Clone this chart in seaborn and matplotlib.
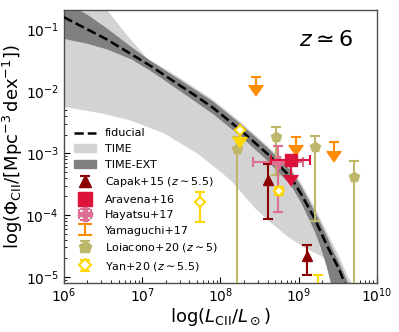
import numpy as np
import pandas as pd
import matplotlib
matplotlib.use("Agg")
import matplotlib.pyplot as plt
import matplotlib.lines as mlines
import seaborn as sns
from matplotlib.patches import Patch

# ---------------- data (log10 values) ----------------
fid_logL = [6.0, 6.55, 7.11, 7.49, 7.67, 7.91, 8.26, 8.6, 8.9, 9.03, 9.2, 9.37, 9.52, 9.6]
fid_logPhi = [-0.80, -1.16, -1.59, -1.91, -2.06, -2.27, -2.63, -3.01, -3.39, -3.66, -4.05, -4.52, -4.89, -5.15]

ext_up_logL = [6.0, 6.3, 6.55, 6.86, 7.11, 7.49, 7.91, 8.26, 8.6, 8.9, 9.03, 9.2, 9.37, 9.43, 9.52, 9.63, 9.68]
ext_up_logPhi = [-0.55, -0.76, -0.98, -1.28, -1.51, -1.82, -2.17, -2.53, -2.91, -3.28, -3.53, -3.93, -4.37, -4.55, -4.78, -5.1, -5.3]
ext_lo_logL = [6.0, 6.3, 6.55, 6.86, 7.11, 7.49, 7.91, 8.26, 8.6, 8.9, 9.03, 9.2, 9.28, 9.36, 9.41, 9.43]
ext_lo_logPhi = [-1.15, -1.23, -1.32, -1.48, -1.67, -2.00, -2.37, -2.73, -3.12, -3.52, -3.80, -4.25, -4.52, -4.85, -5.1, -5.3]

time_up_logL = [6.0, 6.3, 6.55, 6.8, 7.06, 7.49, 7.91, 8.26, 8.6, 8.9, 9.03, 9.2, 9.37, 9.52, 9.63, 9.7, 9.74]
time_up_logPhi = [0.25, -0.26, -0.68, -1.08, -1.46, -1.79, -2.14, -2.50, -2.88, -3.24, -3.48, -3.87, -4.30, -4.68, -5.0, -5.15, -5.3]
time_lo_logL = [6.0, 6.5, 6.85, 7.28, 7.7, 8.0, 8.14, 8.45, 8.64, 8.86, 9.06, 9.25, 9.41, 9.46, 9.48]
time_lo_logPhi = [-2.25, -2.36, -2.47, -2.68, -3.0, -3.3, -3.45, -3.9, -4.12, -4.35, -4.52, -4.64, -4.75, -4.95, -5.3]

# Capak+15
capak_logL = [8.61, 9.11]
capak_logPhi = [-3.43, -4.67]
capak_up = [-3.17, -4.49]
capak_lo = [-4.07, -4.97]

# Aravena+16 (upper limit)
aravena_logL = [8.90]
aravena_logPhi = [-3.11]
aravena_base = [-3.36]
aravena_xlo = [8.65]
aravena_xhi = [9.145]

# Hayatsu+17
hayatsu_logL = [8.735]
hayatsu_logPhi = [-3.14]
hayatsu_up = [-2.89]
hayatsu_lo = [-3.95]
hayatsu_xlo = [8.414]
hayatsu_xhi = [9.055]

# Yamaguchi+17 (upper limits)
yama_logL = [8.45, 8.96, 9.45]
yama_cap = [-1.76, -2.73, -2.82]
yama_base = [-1.90, -2.87, -2.97]

# Loiacono+20
loia_logL = [8.214, 8.705, 9.205, 9.71]
loia_logPhi = [-2.93, -2.73, -2.90, -3.39]
loia_up = [-2.73, -2.57, -2.72, -3.13]
loia_lo = [-8.0, -3.36, -4.09, -8.0]

# Yan+20
yan_logL = [7.744, 8.75, 9.24]
yan_logPhi = [-3.79, -3.61, -5.6]
yan_up = [-3.62, -3.55, -4.97]
yan_lo = [-4.11, -3.67, -8.0]
yan_lim_logL = [8.256]
yan_lim_logPhi = [-2.62]
yan_lim_base = [-2.73]

# ---------------- plotting ----------------
sns.set_style("ticks")
plt.rcParams['font.family'] = ['DejaVu Sans']
plt.rcParams['mathtext.fontset'] = 'dejavusans'
plt.rcParams['text.color'] = 'black'
plt.rcParams['axes.labelcolor'] = 'black'
plt.rcParams['xtick.color'] = 'black'
plt.rcParams['ytick.color'] = 'black'

fig = plt.figure(figsize=(3.99, 3.32), dpi=100)
ax = fig.add_axes([0.160, 0.148, 0.785, 0.823])
ax.set_xscale('log')
ax.set_yscale('log')

p = lambda a: 10.0 ** np.asarray(a, dtype=float)

C_TIME = '#d3d3d3'
C_EXT = '#808080'

ax.fill(np.concatenate([p(time_up_logL), p(time_lo_logL)[::-1]]),
        np.concatenate([p(time_up_logPhi), p(time_lo_logPhi)[::-1]]),
        color=C_TIME, lw=0, zorder=1)
ax.fill(np.concatenate([p(ext_up_logL), p(ext_lo_logL)[::-1]]),
        np.concatenate([p(ext_up_logPhi), p(ext_lo_logPhi)[::-1]]),
        color=C_EXT, lw=0, zorder=2)

fid = pd.DataFrame({'L': p(fid_logL), 'Phi': p(fid_logPhi)})
sns.lineplot(data=fid, x='L', y='Phi', ax=ax, color='black', lw=1.8,
             linestyle='--', zorder=3)

CARETS = (mlines.CARETDOWNBASE, mlines.CARETUPBASE,
          mlines.CARETLEFTBASE, mlines.CARETRIGHTBASE)

def big_carets(cont, size=9.5):
    for ln in cont.lines[1]:
        if ln.get_marker() in CARETS:
            ln.set_markersize(size)

def yerrs(val, lo, up):
    v = p(val)
    return v, np.vstack([v - p(lo), p(up) - v])

cs = 3.5
# Capak
v, e = yerrs(capak_logPhi, capak_lo, capak_up)
h_capak = ax.errorbar(p(capak_logL), v, yerr=e, fmt='^', color='#8b0000', ms=7,
                      capsize=cs, elinewidth=1.5, capthick=1.5, zorder=5)
# Aravena
v = p(aravena_logPhi)
xv = p(aravena_logL)
h_arav = ax.errorbar(xv, v, yerr=v - p(aravena_base),
                     xerr=np.vstack([xv - p(aravena_xlo), p(aravena_xhi) - xv]),
                     uplims=True, fmt='s', color='#dc143c', ms=8,
                     capsize=cs, elinewidth=1.5, capthick=1.5, zorder=6)
big_carets(h_arav)
# Hayatsu
v, e = yerrs(hayatsu_logPhi, hayatsu_lo, hayatsu_up)
xv = p(hayatsu_logL)
h_haya = ax.errorbar(xv, v, yerr=e,
                     xerr=np.vstack([xv - p(hayatsu_xlo), p(hayatsu_xhi) - xv]),
                     fmt='P', color='#db7093', ms=8, capsize=cs,
                     elinewidth=1.5, capthick=1.5, zorder=5)
# Yamaguchi
v = p(yama_cap)
h_yama = ax.errorbar(p(yama_logL), v, yerr=v - p(yama_base), uplims=True,
                     fmt='none', color='#ff8c00', ecolor='#ff8c00', capsize=cs,
                     elinewidth=1.5, capthick=1.5, zorder=5)
big_carets(h_yama)
# Loiacono
v, e = yerrs(loia_logPhi, loia_lo, loia_up)
h_loia = ax.errorbar(p(loia_logL), v, yerr=e, fmt='p', color='#bdb76b', ms=7,
                     capsize=cs, elinewidth=1.5, capthick=1.5, zorder=4)
# Yan
v, e = yerrs(yan_logPhi, yan_lo, yan_up)
h_yan = ax.errorbar(p(yan_logL), v, yerr=e, fmt='D', color='#ffd700', mfc='white',
                    mew=1.5, ms=5, capsize=cs, elinewidth=1.5, capthick=1.5, zorder=5)
v = p(yan_lim_logPhi)
h_yan2 = ax.errorbar(p(yan_lim_logL), v, yerr=v - p(yan_lim_base), uplims=True,
                     fmt='D', color='#ffd700', mfc='white', mew=1.5, ms=5, capsize=cs,
                     elinewidth=1.5, capthick=1.5, zorder=5)
big_carets(h_yan2)

ax.set_xlim(1e6, 1e10)
ax.set_ylim(8e-6, 0.21)

ax.set_xlabel(r'$\log(L_{\rm CII}/L_\odot)$', fontsize=13, labelpad=1)
ax.set_ylabel(r'$\log(\Phi_{\rm CII}/[{\rm Mpc^{-3}\,dex^{-1}}])$', fontsize=13,
              labelpad=0)
ax.tick_params(which='both', direction='in', top=False, right=False,
               labelsize=10)
ax.tick_params(axis='x', which='both', pad=2.5)
ax.tick_params(which='major', length=4)
ax.tick_params(which='minor', length=2)
for s in ax.spines.values():
    s.set_color('0.3')
    s.set_linewidth(1.0)

ax.text(0.836, 0.89, r'$z\simeq6$', transform=ax.transAxes, fontsize=16,
        ha='center', va='center', color='black')

handles = [ax.lines[0], Patch(color=C_TIME), Patch(color=C_EXT),
           h_capak, h_arav, h_haya, h_yama, h_loia, h_yan]
labels = ['fiducial', 'TIME', 'TIME-EXT', r'Capak+15 ($z\sim5.5$)',
          'Aravena+16', 'Hayatsu+17', 'Yamaguchi+17',
          r'Loiacono+20 ($z\sim5$)', r'Yan+20 ($z\sim5.5$)']
ax.legend(handles, labels, loc='lower left', fontsize=8, frameon=False,
          markerscale=1.3)

fig.savefig('out.png', dpi=100)
